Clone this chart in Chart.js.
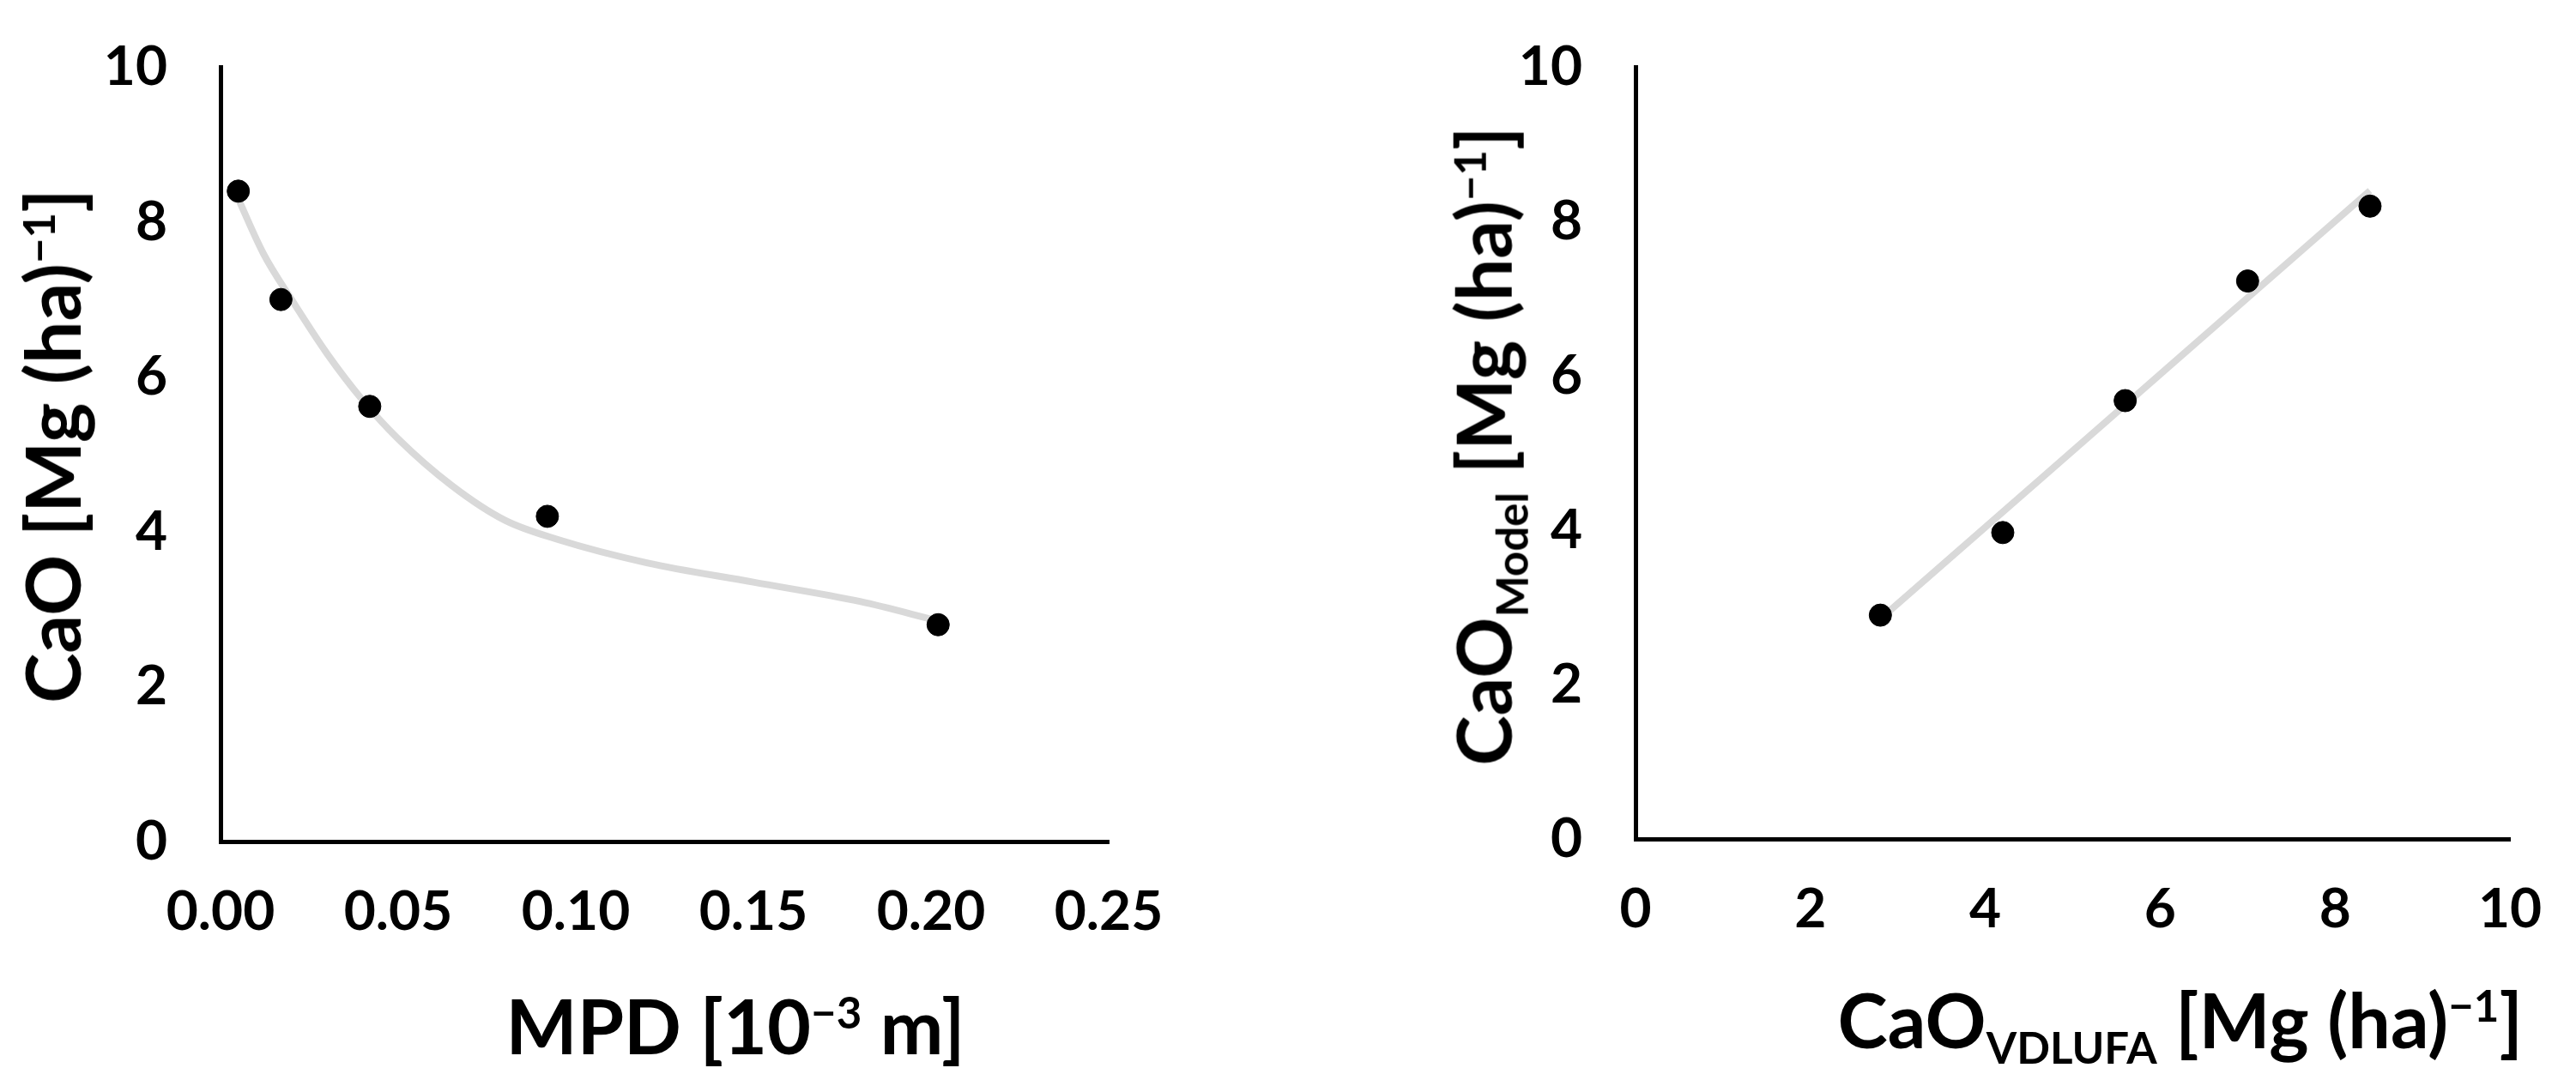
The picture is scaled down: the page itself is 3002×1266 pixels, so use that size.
<!DOCTYPE html>
<html><head><meta charset="utf-8">
<script src="https://cdn.jsdelivr.net/npm/chart.js@4"></script>
<style>
body{margin:0;background:#fff;width:3002px;height:1266px;position:relative;overflow:hidden;font-family:Lato,"Open Sans",sans-serif;}
canvas{position:absolute;top:0}
.t{position:absolute;font-weight:bold;font-size:88px;color:#000;white-space:nowrap;line-height:1}
.t sub,.t sup{font-size:58%}
</style></head><body>
<div id="w1" style="position:absolute;left:0;top:0;width:1400px;height:1266px"><canvas id="c1"></canvas></div>
<div id="w2" style="position:absolute;left:1500px;top:0;width:1502px;height:1266px"><canvas id="c2"></canvas></div>
<div class="t" style="left:857px;top:1195px;transform:translate(-50%,-50%)">MPD [10<sup>−3</sup> m]</div>
<div class="t" style="left:60px;top:520px;transform:translate(-50%,-50%) rotate(-90deg)">CaO [Mg (ha)<sup>−1</sup>]</div>
<div class="t" style="left:1735px;top:520px;transform:translate(-50%,-50%) rotate(-90deg)">CaO<sub>Model</sub> [Mg (ha)<sup>−1</sup>]</div>
<div class="t" style="right:62px;top:1195px;transform:translate(0,-50%)">CaO<sub>VDLUFA</sub> [Mg (ha)<sup>−1</sup>]</div>
<script>
// Left panel: MPD vs CaO
const mpd = [0.005, 0.017, 0.042, 0.092, 0.202];
const caoMeasured = [8.4, 7.0, 5.62, 4.2, 2.8];
const fitX = [0.005, 0.012, 0.02, 0.03, 0.04, 0.05, 0.065, 0.08, 0.095, 0.12, 0.15, 0.18, 0.202];
const fitY = [8.3, 7.6, 7.0, 6.3, 5.7, 5.2, 4.6, 4.15, 3.9, 3.6, 3.35, 3.1, 2.85];
const xTicks1 = [0, 0.05, 0.10, 0.15, 0.20, 0.25];
// Right panel: CaO VDLUFA vs CaO Model
const caoVdlufa = [2.8, 4.2, 5.6, 7.0, 8.4];
const caoModel = [2.9, 3.97, 5.68, 7.23, 8.2];
const lineX = [2.8, 8.4];
const lineY = [2.85, 8.4];
const yTicks = [0, 2, 4, 6, 8, 10];

const pts = (xs, ys) => xs.map((x, i) => ({x, y: ys[i]}));
const font = {family: 'Lato, "Open Sans", sans-serif', size: 64, weight: 'bold'};

function make(id, scatter, fit, xmin, xmax, xstep, xfmt, pad, yW, xH) {
  return new Chart(document.getElementById(id), {
    type: 'scatter',
    data: {datasets: [
      {data: scatter, backgroundColor: '#000', borderColor: '#000', pointRadius: 13, pointHoverRadius: 13, order: 0},
      {data: fit, showLine: true, borderColor: '#d9d9d9', borderWidth: 8, pointRadius: 0, cubicInterpolationMode: 'monotone', order: 1}
    ]},
    options: {
      responsive: true, maintainAspectRatio: false, animation: false, devicePixelRatio: 1,
      layout: {padding: pad},
      plugins: {legend: {display: false}, tooltip: {enabled: false}},
      scales: {
        x: {type: 'linear', min: xmin, max: xmax,
          ticks: {stepSize: xstep, color: '#000', font, padding: 22, callback: xfmt, maxRotation: 0},
          grid: {display: false, drawTicks: true, tickLength: 22, tickWidth: 5, tickColor: '#000'},
          border: {display: true, color: '#000', width: 5},
          afterFit: s => { s.height = xH; }},
        y: {type: 'linear', min: 0, max: 10,
          afterBuildTicks: s => { s.ticks = yTicks.map(v => ({value: v})); },
          ticks: {color: '#000', font, padding: 40},
          grid: {display: false, drawTicks: true, tickLength: 22, tickWidth: 5, tickColor: '#000'},
          border: {display: true, color: '#000', width: 5},
          afterFit: s => { s.width = yW; }}
      }
    }
  });
}
make('c1', pts(mpd, caoMeasured), pts(fitX, fitY), 0, 0.25, 0.05, v => v.toFixed(2),
  {top: 50, right: 108, left: 0, bottom: 0}, 257, 285);
make('c2', pts(caoVdlufa, caoModel), pts(lineX, lineY), 0, 10, 2, v => String(v),
  {top: 60, right: 77, left: 0, bottom: 0}, 406, 288);
</script>
</body></html>
